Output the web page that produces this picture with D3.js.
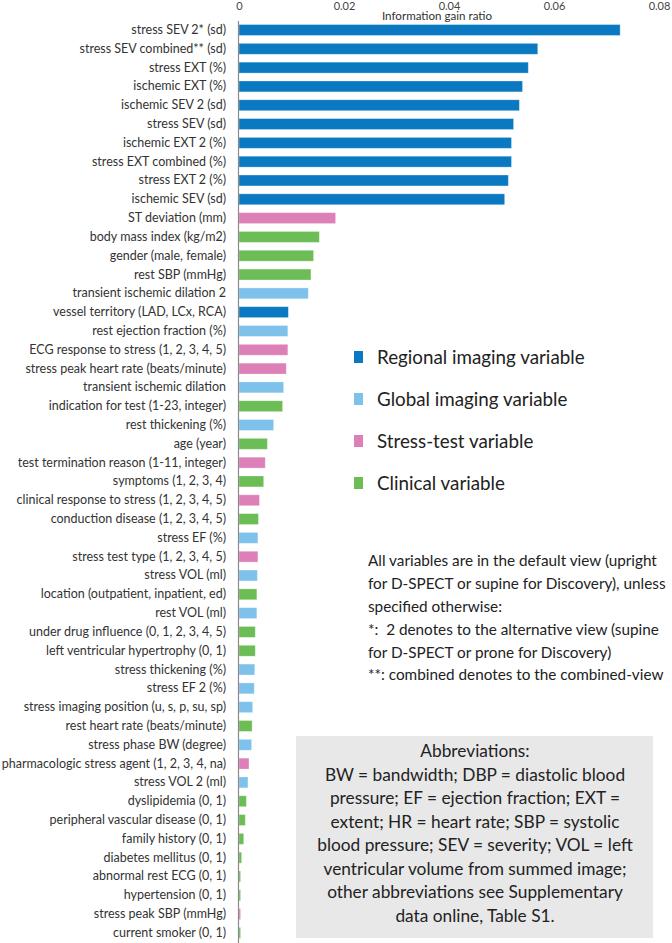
<!DOCTYPE html>
<html><head><meta charset="utf-8">
<script src="https://cdn.jsdelivr.net/npm/d3@7"></script>
<style>html,body{margin:0;padding:0;background:#fff;}svg{display:block;}</style>
</head><body>
<svg id="c" width="672" height="943"></svg>
<script>
const categories = [
"stress SEV 2* (sd)","stress SEV combined** (sd)","stress EXT (%)","ischemic EXT (%)","ischemic SEV 2 (sd)",
"stress SEV (sd)","ischemic EXT 2 (%)","stress EXT combined (%)","stress EXT 2 (%)","ischemic SEV (sd)",
"ST deviation (mm)","body mass index (kg/m2)","gender (male, female)","rest SBP (mmHg)","transient ischemic dilation 2",
"vessel territory (LAD, LCx, RCA)","rest ejection fraction (%)","ECG response to stress (1, 2, 3, 4, 5)","stress peak heart rate (beats/minute)","transient ischemic dilation",
"indication for test (1-23, integer)","rest thickening (%)","age (year)","test termination reason (1-11, integer)","symptoms (1, 2, 3, 4)",
"clinical response to stress (1, 2, 3, 4, 5)","conduction disease (1, 2, 3, 4, 5)","stress EF (%)","stress test type (1, 2, 3, 4, 5)","stress VOL (ml)",
"location (outpatient, inpatient, ed)","rest VOL (ml)","under drug influence (0, 1, 2, 3, 4, 5)","left ventricular hypertrophy (0, 1)","stress thickening (%)",
"stress EF 2 (%)","stress imaging position (u, s, p, su, sp)","rest heart rate (beats/minute)","stress phase BW (degree)","pharmacologic stress agent (1, 2, 3, 4, na)",
"stress VOL 2 (ml)","dyslipidemia (0, 1)","peripheral vascular disease (0, 1)","family history (0, 1)","diabetes mellitus (0, 1)",
"abnormal rest ECG (0, 1)","hypertension (0, 1)","stress peak SBP (mmHg)","current smoker (0, 1)"
];
const values = [
0.0726,0.0569,0.0551,0.0540,0.0534,
0.0523,0.0519,0.0519,0.0513,0.0506,
0.0184,0.0153,0.0142,0.0137,0.0132,
0.0094,0.0093,0.0093,0.0090,0.0085,
0.0083,0.0066,0.0054,0.0050,0.0047,
0.0039,0.0037,0.0036,0.0036,0.0035,
0.0034,0.0034,0.0031,0.0031,0.0030,
0.0029,0.0026,0.0025,0.0024,0.0019,
0.0017,0.0014,0.0012,0.0009,0.0005,
0.0003,0.0003,0.0003,0.0003
];
const groups = [
"R","R","R","R","R","R","R","R","R","R",
"S","C","C","C","G","R","G","S","S","G",
"C","G","C","S","C","S","C","G","S","G",
"C","G","C","C","G","G","G","C","G","S",
"G","C","C","C","C","C","C","S","C"
];
const groupKeys = ["R","G","S","C"];
const groupNames = ["Regional imaging variable","Global imaging variable","Stress-test variable","Clinical variable"];
const groupColors = ["#0b79c2","#7ec2ec","#de80b8","#6dbd57"];
const tickValues = [0,0.02,0.04,0.06,0.08];
const axisTitle = "Information gain ratio";
const noteLines = [
"All variables are in the default view (upright",
"for D-SPECT or supine for Discovery), unless",
"specified otherwise:",
"*:  2 denotes to the alternative view (supine",
"for D-SPECT or prone for Discovery)",
"**: combined denotes to the combined-view"
];
const abbrLines = [
"Abbreviations:",
"BW = bandwidth; DBP = diastolic blood",
"pressure; EF = ejection fraction; EXT =",
"extent; HR = heart rate; SBP = systolic",
"blood pressure; SEV = severity; VOL = left",
"ventricular volume from summed image;",
"other abbreviations see Supplementary",
"data online, Table S1."
];

const FONT = "Lato, 'Open Sans', sans-serif";
const svg = d3.select("#c");
const color = d3.scaleOrdinal().domain(groupKeys).range(groupColors);
const x = d3.scaleLinear().domain([0,0.08]).range([239,659]);
const step = 18.81, y0 = 20.6;
const y = d3.scaleBand().domain(categories).range([y0, y0 + categories.length*step])
  .paddingInner(0.42).paddingOuter(0.21);

// top axis labels
const ax = svg.append("g").attr("transform","translate(0,9.6)")
  .call(d3.axisTop(x).tickValues(tickValues).tickSize(0).tickPadding(0)
    .tickFormat(d => d===0 ? "0" : d3.format(".2f")(d)));
ax.select(".domain").remove();
ax.selectAll("text").attr("font-family",FONT).attr("font-size",11).attr("fill","#444").attr("dy","0");
svg.append("text").attr("x",437).attr("y",20.4).attr("text-anchor","middle")
  .attr("font-family",FONT).attr("font-size",11.6).attr("fill","#333").text(axisTitle);

// bars
svg.append("g").selectAll("rect").data(categories).join("rect")
  .attr("x",x(0)).attr("y",d=>y(d))
  .attr("width",(d,i)=>x(values[i])-x(0)).attr("height",y.bandwidth())
  .attr("fill",(d,i)=>color(groups[i]))
  .attr("stroke","#ffffff").attr("stroke-opacity",0.35).attr("stroke-width",0.8);

// y axis line
svg.append("line").attr("x1",x(0)-0.5).attr("x2",x(0)-0.5).attr("y1",21).attr("y2",943)
  .attr("stroke","#8a8a8a").attr("stroke-width",1.2);

// category labels
const yl = svg.append("g").attr("transform",`translate(${x(0)-13},0)`)
  .call(d3.axisLeft(y).tickSize(0).tickPadding(0));
yl.select(".domain").remove();
yl.selectAll("text").attr("font-family",FONT).attr("font-size",12.5).attr("fill","#333");

// legend
const lg = svg.append("g").selectAll("g").data(groupKeys).join("g")
  .attr("transform",(d,i)=>`translate(354,${357+i*42})`);
lg.append("rect").attr("x",0).attr("y",-6).attr("width",9).attr("height",12).attr("fill",d=>color(d));
lg.append("text").attr("x",23).attr("y",0).attr("dy","0.35em").attr("font-family",FONT)
  .attr("font-size",18.8).attr("fill","#222").text((d,i)=>groupNames[i]);

// note
svg.append("g").selectAll("text").data(noteLines).join("text")
  .attr("x",368).attr("y",(d,i)=>561+i*22.8).attr("dy","0.35em").style("white-space","pre")
  .attr("font-family",FONT).attr("font-size",15.3).attr("fill","#222").text(d=>d);

// abbreviations box
svg.append("rect").attr("x",296).attr("y",736).attr("width",357).attr("height",202).attr("fill","#e8e8e9");
svg.append("g").selectAll("text").data(abbrLines).join("text")
  .attr("x",475).attr("y",(d,i)=>751+i*23.5).attr("dy","0.35em").attr("text-anchor","middle")
  .attr("font-family",FONT).attr("font-size",17.3).attr("fill","#222").text(d=>d);
</script>
</body></html>
